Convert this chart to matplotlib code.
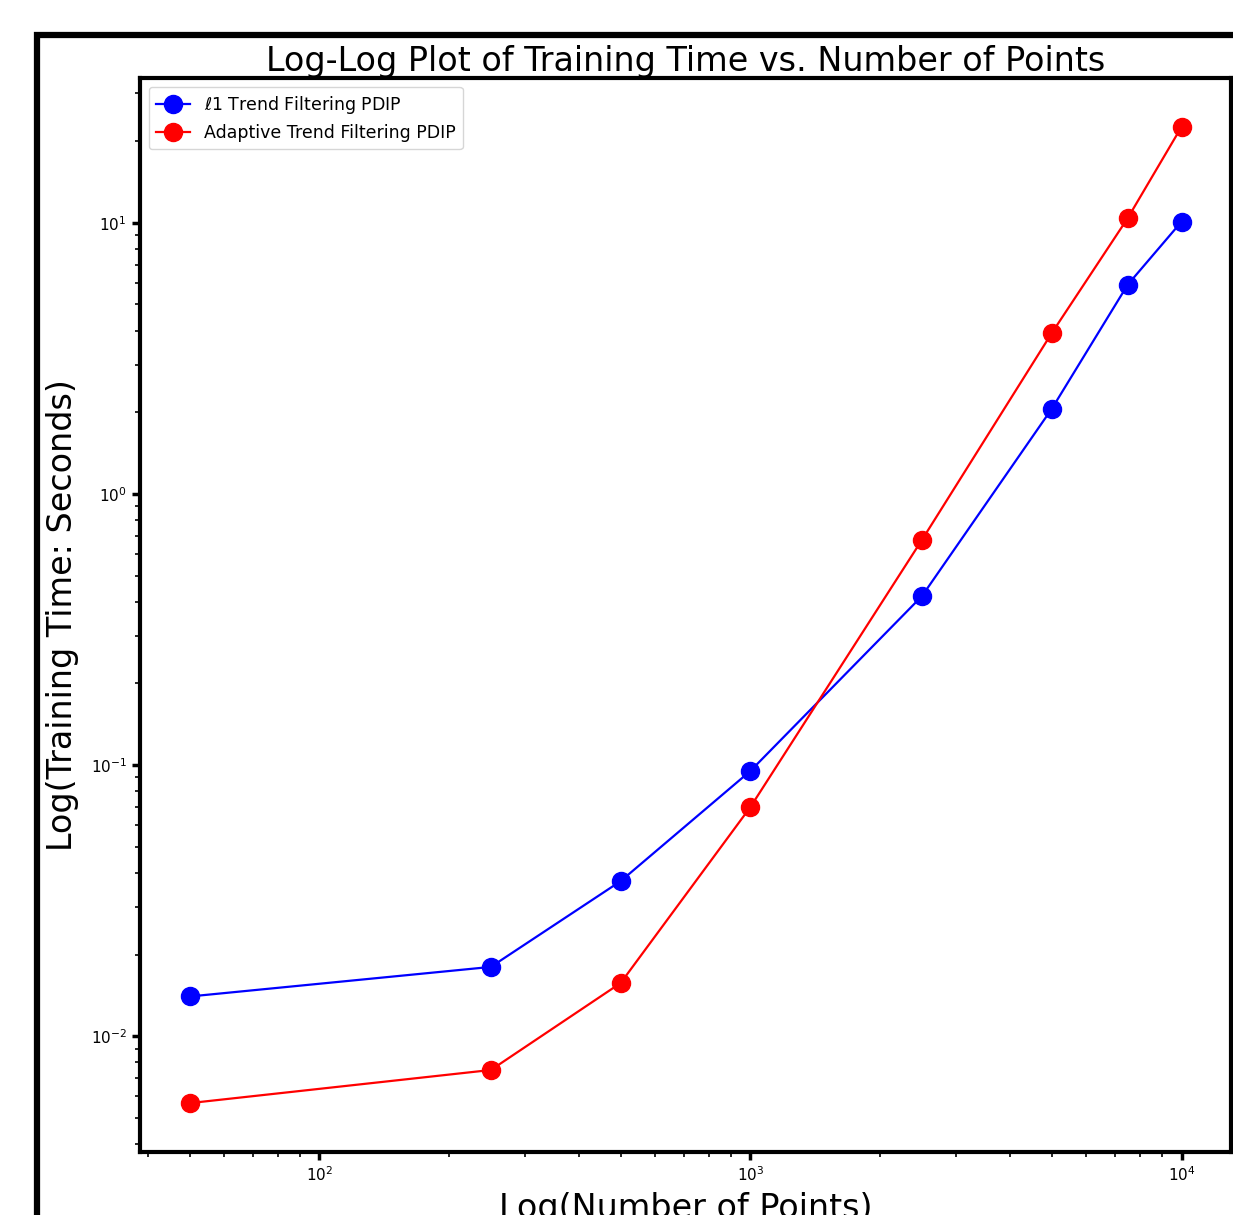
import numpy as np
import matplotlib
matplotlib.use("Agg")
import matplotlib.pyplot as plt
from matplotlib.patches import Rectangle

# data
n_points = [50, 250, 500, 1000, 2500, 5000, 7500, 10000]
l1_time = [0.0140, 0.0180, 0.0373, 0.0951, 0.420, 2.06, 5.91, 10.1]
adaptive_time = [0.00566, 0.0075, 0.0157, 0.070, 0.677, 3.92, 10.4, 22.6]

l1_label = r"$\ell$1 Trend Filtering PDIP"
adaptive_label = "Adaptive Trend Filtering PDIP"
title = "Log-Log Plot of Training Time vs. Number of Points"
xlabel = "Log(Number of Points)"
ylabel = "Log(Training Time: Seconds)"

# -----------------------------
# FIGURE
# -----------------------------
fig = plt.figure(figsize=(12.33, 12.15), dpi=100)
ax = fig.add_axes([0.1135, 0.0519, 0.885, 0.8839])

ax.plot(n_points, l1_time, "-o", color="blue", lw=1.6, ms=13, label=l1_label)
ax.plot(n_points, adaptive_time, "-o", color="red", lw=1.6, ms=13, label=adaptive_label)

ax.set_xscale("log")
ax.set_yscale("log")

ax.set_title(title, fontsize=24, pad=5)
ax.set_xlabel(xlabel, fontsize=24, labelpad=6)
ax.set_ylabel(ylabel, fontsize=24, labelpad=8)

for s in ax.spines.values():
    s.set_linewidth(3)
ax.tick_params(which="major", length=6, width=2.5, labelsize=11)
ax.tick_params(which="minor", length=3.5, width=1.2)

ax.legend(loc="upper left", fontsize=12.5, borderaxespad=0.5)

# outer frame around the whole figure (cut off at right/bottom)
fig.patches.append(Rectangle((0.030, -0.05), 1.1, 0.971 + 0.05,
                             transform=fig.transFigure, fill=False,
                             lw=4.5, edgecolor="black", clip_on=False))

fig.savefig("out.png", dpi=100)
